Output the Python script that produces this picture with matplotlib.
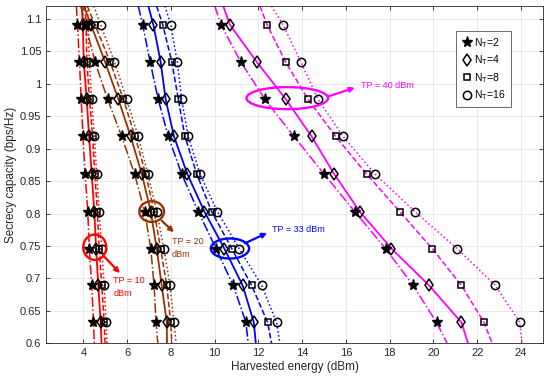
import numpy as np
import matplotlib.pyplot as plt
from matplotlib.patches import Ellipse

plt.rcParams['font.family'] = ['Liberation Sans', 'DejaVu Sans']

# secrecy capacity rows where markers sit (bps/Hz)
rows = [1.091, 1.034, 0.976, 0.919, 0.861, 0.803, 0.746, 0.689, 0.632]
# line ends at the axis limits
y_top, y_bot = 1.12, 0.6

# harvested energy (dBm) per transmit power, per N_T (2, 4, 8, 16)
tp10 = {
    2:  [3.73, 3.82, 3.90, 3.98, 4.08, 4.20, 4.27, 4.38, 4.46],
    4:  [3.97, 4.02, 4.15, 4.26, 4.38, 4.50, 4.58, 4.68, 4.79],
    8:  [4.12, 4.16, 4.28, 4.42, 4.52, 4.64, 4.72, 4.84, 4.95],
    16: [4.22, 4.27, 4.38, 4.50, 4.61, 4.72, 4.84, 4.95, 5.04],
}
tp10_top = {2: 3.68, 4: 3.93, 8: 4.08, 16: 4.18}
tp10_bot = {2: 4.50, 4: 4.83, 8: 4.99, 16: 5.08}

tp20 = {
    2:  [4.10, 4.53, 5.11, 5.75, 6.34, 6.80, 7.08, 7.23, 7.32],
    4:  [4.35, 4.99, 5.60, 6.16, 6.67, 7.08, 7.35, 7.58, 7.81],
    8:  [4.53, 5.22, 5.83, 6.36, 6.85, 7.23, 7.53, 7.81, 7.99],
    16: [4.79, 5.42, 5.98, 6.50, 6.95, 7.35, 7.68, 7.96, 8.14],
}
tp20_top = {2: 3.88, 4: 4.02, 8: 4.18, 16: 4.47}
tp20_bot = {2: 7.40, 4: 7.82, 8: 8.04, 16: 8.24}

tp33 = {
    2:  [6.71, 7.05, 7.42, 7.88, 8.49, 9.25, 10.06, 10.85, 11.43],
    4:  [7.20, 7.53, 7.76, 8.14, 8.75, 9.53, 10.44, 11.28, 11.79],
    8:  [7.63, 8.04, 8.34, 8.64, 9.18, 9.86, 10.78, 11.69, 12.42],
    16: [7.99, 8.29, 8.49, 8.79, 9.33, 10.12, 11.12, 12.15, 12.83],
}
tp33_top = {2: 6.51, 4: 6.97, 8: 7.35, 16: 7.73}
tp33_bot = {2: 11.53, 4: 11.88, 8: 12.60, 16: 12.98}

tp40 = {
    2:  [10.29, 11.19, 12.30, 13.62, 15.00, 16.40, 17.81, 19.07, 20.14],
    4:  [10.70, 11.92, 13.26, 14.43, 15.46, 16.63, 18.08, 19.80, 21.28],
    8:  [12.40, 13.24, 14.27, 15.53, 16.94, 18.46, 19.94, 21.28, 22.31],
    16: [13.13, 13.93, 14.73, 15.87, 17.32, 19.15, 21.08, 22.83, 23.94],
}
tp40_top = {2: 10.01, 4: 10.39, 8: 12.07, 16: 12.60}
tp40_bot = {2: 20.62, 4: 21.58, 8: 22.68, 16: 24.05}

nts = [2, 4, 8, 16]
styles = {2: '-.', 4: '-', 8: '--', 16: ':'}
markers = {2: '*', 4: 'd', 8: 's', 16: 'o'}
msizes = {2: 8, 4: 6.5, 8: 4.5, 16: 6}

groups = [
    (tp10, tp10_top, tp10_bot, '#ff0000'),
    (tp20, tp20_top, tp20_bot, '#993300'),
    (tp33, tp33_top, tp33_bot, '#0000ff'),
    (tp40, tp40_top, tp40_bot, '#ff00ff'),
]

fig = plt.figure(figsize=(5.5, 3.8), dpi=100)
ax = fig.add_axes([0.084, 0.097, 0.903, 0.887])

for data, top, bot, col in groups:
    for nt in nts:
        xs = [top[nt]] + data[nt] + [bot[nt]]
        ys = [y_top] + rows + [y_bot]
        lw = 1.3 if nt == 4 else 1.1
        ax.plot(xs, ys, linestyle=styles[nt], color=col, lw=lw, zorder=2)

for data, top, bot, col in groups:
    for nt in nts:
        if nt == 2:
            ax.plot(data[nt], rows, linestyle='none', marker='*', ms=msizes[nt],
                    color='black', zorder=3)
        else:
            ax.plot(data[nt], rows, linestyle='none', marker=markers[nt], ms=msizes[nt],
                    mfc='none', mec='black', mew=1.1, zorder=3)

# legend with black markers only
handles = []
for nt in nts:
    if nt == 2:
        h, = ax.plot([], [], linestyle='none', marker='*', ms=8, color='black')
    else:
        h, = ax.plot([], [], linestyle='none', marker=markers[nt], ms=msizes[nt],
                     mfc='none', mec='black', mew=1.1)
    handles.append(h)
leg = ax.legend(handles, ['N$_\\mathrm{T}$=%d' % n for n in nts], loc='upper right',
                bbox_to_anchor=(0.935, 0.925), fontsize=7.5, fancybox=False,
                framealpha=1, edgecolor='#555555', handletextpad=0.2,
                borderpad=0.45, labelspacing=0.35, handlelength=1.1,
                borderaxespad=0)
leg.get_frame().set_linewidth(0.6)

# annotations
def mark(cx, cy, w, h, col, start, end, label, tx, ty, ha='left'):
    ax.add_patch(Ellipse((cx, cy), w, h, fill=False, ec=col, lw=1.7, zorder=4))
    ax.annotate('', xy=end, xytext=start,
                arrowprops=dict(arrowstyle='-|>', color=col, lw=1.6,
                                mutation_scale=7, shrinkA=0, shrinkB=0))
    ax.text(tx, ty, label, color=col, fontsize=6.5, ha=ha, va='top', linespacing=1.5)

mark(4.52, 0.748, 1.05, 0.039, '#ff0000', (4.91, 0.735), (5.67, 0.708),
     'TP = 10\ndBm', 5.37, 0.703)
mark(7.12, 0.803, 1.13, 0.032, '#993300', (7.58, 0.789), (8.14, 0.771),
     'TP = 20\ndBm', 8.04, 0.763)
mark(10.7, 0.746, 1.75, 0.031, '#0000ff', (11.38, 0.754), (12.4, 0.77),
     'TP = 33 dBm', 12.6, 0.783)
mark(13.32, 0.978, 3.73, 0.034, '#ff00ff', (15.22, 0.981), (16.41, 0.994),
     'TP = 40 dBm', 16.71, 1.005)

ax.set_xlim(2.3, 25)
ax.set_ylim(0.6, 1.12)
ax.set_xticks(np.arange(4, 25, 2))
ax.set_yticks(np.arange(0.6, 1.101, 0.05))
ax.set_yticklabels(['0.6', '0.65', '0.7', '0.75', '0.8', '0.85', '0.9', '0.95', '1', '1.05', '1.1'])
ax.grid(True, color='#e6e6e6', lw=0.6)
ax.set_axisbelow(True)
ax.tick_params(direction='in', top=True, right=True, labelsize=8, length=3,
               colors='#262626', width=0.6)
for s in ax.spines.values():
    s.set_color('#262626')
    s.set_linewidth(0.6)
ax.set_xlabel('Harvested energy (dBm)', fontsize=8.5, color='#262626', labelpad=2.5)
ax.set_ylabel('Secrecy capacity (bps/Hz)', fontsize=8.5, color='#262626', labelpad=2)

fig.savefig('out.png', dpi=100)
